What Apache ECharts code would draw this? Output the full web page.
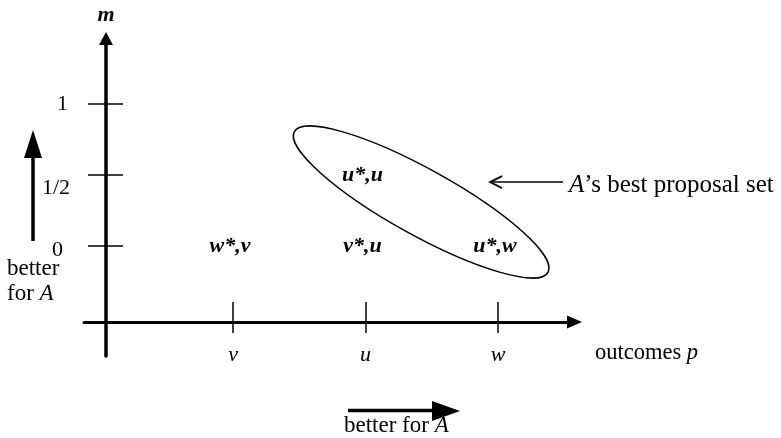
<!DOCTYPE html>
<html>
<head>
<meta charset="utf-8">
<script src="https://cdn.jsdelivr.net/npm/echarts@6/dist/echarts.min.js"></script>
<style>
  html, body { margin: 0; padding: 0; background: #fff; }
  #chart { width: 781px; height: 438px; }
</style>
</head>
<body>
<div id="chart"></div>
<script>
// outcomes on the horizontal axis
const outcomeNames = ['v', 'u', 'w']
const outcomeValues = [1, 2, 3]
// m levels on the vertical axis
const mValues = [0, 0.5, 1]
const mLabels = ['0', '1/2', '1']
// proposals (x = outcome, y = m)
const pointX = [1, 2, 3, 2]
const pointY = [0, 0, 0, 0.5]
const pointNames = ['w*,v', 'v*,u', 'u*,w', 'u*,u']
// A's best proposal set, in data units
const bestSetCenter = [2.42, 0.31]
const pointerTail = [3.49, 0.45]
const pointerTip = [2.94, 0.45]

const serif = '"Liberation Serif", "Times New Roman", serif'
const black = '#000'

function font(size, style, weight) {
  return { fontFamily: serif, fontSize: size, fontStyle: style || 'normal', fontWeight: weight || 'normal', color: black }
}

const chart = echarts.init(document.getElementById('chart'))

const xRange = { min: -0.1245, max: 3.577 }
const yRange = { min: -0.7746, max: 1.4613 }

chart.setOption({
  backgroundColor: '#fff',
  animation: false,
  grid: { left: 84, right: 206.5, top: 38.5, bottom: 82, outerBoundsMode: 'none' },
  xAxis: [
    {
      type: 'value', position: 'bottom', offset: -34, ...xRange,
      axisLine: { show: true, onZero: false, symbol: ['none', 'triangle'], symbolSize: [13, 15], lineStyle: { color: black, width: 3 } },
      axisTick: { show: true, inside: false, length: 11, customValues: outcomeValues, lineStyle: { color: black, width: 1.5 } },
      axisLabel: {
        show: true, customValues: outcomeValues, margin: 22, ...font(22, 'italic'),
        formatter: v => outcomeNames[outcomeValues.indexOf(v)]
      },
      splitLine: { show: false },
      name: 'outcomes {i|p}', nameLocation: 'end', nameGap: 20.5,
      nameTextStyle: { ...font(22.5), align: 'left', verticalAlign: 'middle', padding: [62, 0, 0, 0], rich: { i: font(22.5, 'italic') } }
    },
    {
      type: 'value', position: 'bottom', offset: -34, ...xRange,
      axisLine: { show: false, onZero: false },
      axisTick: { show: true, inside: true, length: 20, customValues: outcomeValues, lineStyle: { color: black, width: 1.5 } },
      axisLabel: { show: false },
      splitLine: { show: false }
    }
  ],
  yAxis: [
    {
      type: 'value', position: 'left', offset: -22, ...yRange,
      axisLine: { show: true, onZero: false, symbol: ['none', 'triangle'], symbolSize: [14, 13], lineStyle: { color: black, width: 3.5 } },
      axisTick: { show: true, inside: false, length: 18, customValues: mValues, lineStyle: { color: black, width: 1.5 } },
      axisLabel: {
        show: true, customValues: mValues, margin: 36, ...font(22),
        formatter: v => {
          const i = mValues.indexOf(v)
          return '{t' + i + '|' + mLabels[i] + '}'
        },
        rich: {
          t0: { ...font(22), padding: [9, 7, 0, 0] },
          t1: { ...font(22), padding: [26, 0, 0, 0] },
          t2: { ...font(22), padding: [0, 2, 0, 0] }
        }
      },
      splitLine: { show: false },
      name: 'm', nameLocation: 'end', nameGap: 12,
      nameTextStyle: { ...font(22, 'italic', 'bold'), align: 'center' }
    },
    {
      type: 'value', position: 'left', offset: -22, ...yRange,
      axisLine: { show: false, onZero: false },
      axisTick: { show: true, inside: true, length: 17, customValues: mValues, lineStyle: { color: black, width: 1.5 } },
      axisLabel: { show: false },
      splitLine: { show: false }
    }
  ],
  series: [
    {
      type: 'scatter',
      data: pointX.map((x, i) => [x, pointY[i]]),
      symbolSize: 0,
      silent: true,
      clip: false,
      itemStyle: { color: black, opacity: 1 },
      label: {
        show: true, position: 'inside', offset: [-3, 0],
        ...font(22, 'italic', 'bold'), textBorderWidth: 0, opacity: 1,
        formatter: p => pointNames[p.dataIndex]
      }
    },
    {
      type: 'custom',
      clip: false,
      silent: true,
      data: [bestSetCenter],
      renderItem: (params, api) => {
        const c = api.coord([api.value(0), api.value(1)])
        const tail = api.coord(pointerTail)
        const tip = api.coord(pointerTip)
        return {
          type: 'group',
          children: [
            {
              type: 'ellipse',
              shape: { cx: 0, cy: 0, rx: 145, ry: 33 },
              x: c[0], y: c[1], rotation: -29 * Math.PI / 180,
              style: { fill: 'none', stroke: black, lineWidth: 1.5 }
            },
            {
              type: 'line',
              shape: { x1: tail[0], y1: tail[1], x2: tip[0], y2: tip[1] },
              style: { stroke: black, lineWidth: 1.5 }
            },
            {
              type: 'polyline',
              shape: { points: [[tip[0] + 12, tip[1] - 6], [tip[0], tip[1]], [tip[0] + 12, tip[1] + 6]] },
              style: { fill: 'none', stroke: black, lineWidth: 1.8 }
            },
            {
              type: 'text',
              x: tail[0] + 6, y: tail[1] + 3.4,
              style: {
                text: '{i|A}’s best proposal set',
                ...font(25), fill: black, align: 'left', verticalAlign: 'middle',
                rich: { i: { ...font(25, 'italic'), fill: black } }
              }
            }
          ]
        }
      }
    }
  ],
  graphic: [
    // "better for A" upward arrow
    { type: 'line', shape: { x1: 33, y1: 241, x2: 33, y2: 156 }, style: { stroke: black, lineWidth: 3.5 } },
    { type: 'polygon', shape: { points: [[33, 130], [24, 158], [42, 158]] }, style: { fill: black } },
    {
      type: 'text', x: 7, y: 256,
      style: {
        text: 'better\nfor {i|A}', ...font(23), fill: black, lineHeight: 25, verticalAlign: 'top',
        rich: { i: { ...font(23, 'italic'), fill: black, lineHeight: 25 } }
      }
    },
    // "better for A" rightward arrow
    { type: 'line', shape: { x1: 348, y1: 410.5, x2: 436, y2: 410.5 }, style: { stroke: black, lineWidth: 3.5 } },
    { type: 'polygon', shape: { points: [[460, 411], [432, 401], [432, 421]] }, style: { fill: black } },
    {
      type: 'text', x: 344, y: 426,
      style: {
        text: 'better for {i|A}', ...font(23), fill: black, verticalAlign: 'middle',
        rich: { i: { ...font(23, 'italic'), fill: black } }
      }
    }
  ]
})
</script>
</body>
</html>
